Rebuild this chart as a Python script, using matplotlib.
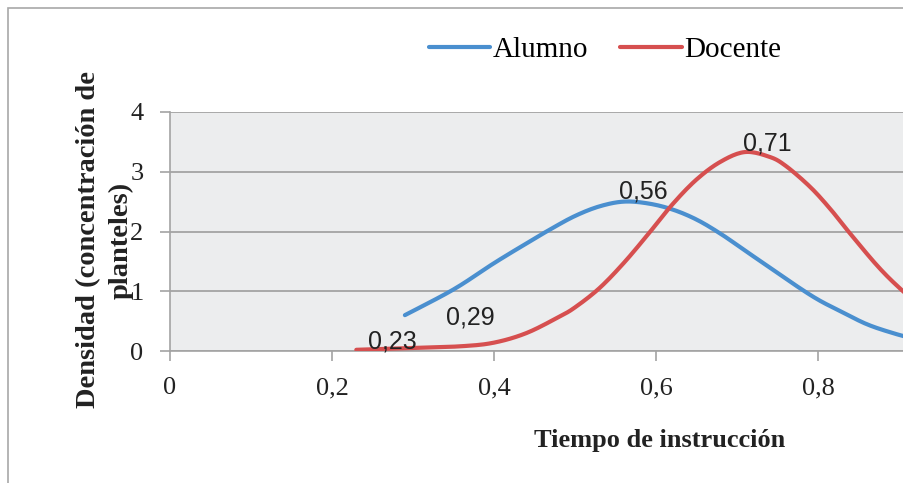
import numpy as np
import matplotlib.pyplot as plt
from matplotlib.patches import Rectangle

# density curves (x = tiempo de instrucción, y = densidad)
alumno_x = [0.29, 0.35, 0.40, 0.44, 0.47, 0.50, 0.53, 0.56, 0.59, 0.62, 0.65, 0.68, 0.71,
            0.74, 0.77, 0.80, 0.83, 0.86, 0.89, 0.92, 0.95]
alumno_y = [0.60, 1.03, 1.47, 1.80, 2.04, 2.26, 2.42, 2.50, 2.47, 2.37, 2.20, 1.96, 1.68,
            1.40, 1.12, 0.86, 0.65, 0.45, 0.31, 0.20, 0.12]

docente_x = [0.23, 0.30, 0.36, 0.40, 0.44, 0.48, 0.50, 0.53, 0.56, 0.59, 0.62, 0.65, 0.68,
             0.71, 0.74, 0.76, 0.79, 0.815, 0.84, 0.875, 0.905, 0.94]
docente_y = [0.02, 0.05, 0.08, 0.14, 0.30, 0.57, 0.73, 1.05, 1.47, 1.95, 2.45, 2.87, 3.17,
             3.33, 3.25, 3.10, 2.75, 2.38, 1.96, 1.40, 1.00, 0.60]

# labelled points: (x, y, text, offset in points)
labels = [
    (0.23, 0.02, "0,23", (26, 6)),
    (0.29, 0.60, "0,29", (47, -2)),
    (0.56, 2.50, "0,56", (14, 7)),
    (0.71, 3.33, "0,71", (16, 6)),
]

x_ticks = [0, 0.2, 0.4, 0.6, 0.8]
x_tick_labels = ["0", "0,2", "0,4", "0,6", "0,8"]
y_ticks = [0, 1, 2, 3, 4]

BLUE = "#4a8fcf"
RED = "#d64f4f"
GRID = "#a3a3a3"
SERIF = ["Liberation Serif", "DejaVu Serif"]


def smooth(xs, ys, steps=12):
    # Catmull-Rom pass through the points, like a spreadsheet's smoothed line
    p = np.column_stack([xs, ys])
    p = np.vstack([p[0], p, p[-1]])
    out = []
    t = np.linspace(0, 1, steps, endpoint=False)[:, None]
    for i in range(1, len(p) - 2):
        p0, p1, p2, p3 = p[i - 1], p[i], p[i + 1], p[i + 2]
        seg = 0.5 * (2 * p1 + (-p0 + p2) * t + (2 * p0 - 5 * p1 + 4 * p2 - p3) * t ** 2
                     + (-p0 + 3 * p1 - 3 * p2 + p3) * t ** 3)
        out.append(seg)
    out.append(p[-2][None, :])
    out = np.vstack(out)
    return out[:, 0], out[:, 1]


fig = plt.figure(figsize=(9.04, 4.83), dpi=100)
W, H = 904, 483

# x from 170 px (0) to 980 px (1), y from 351 px (0) to 112 px (4)
ax = fig.add_axes([170 / W, 1 - 351 / H, 810 / W, (351 - 112) / H])
ax.set_facecolor("#ecedee")
ax.set_xlim(0, 1)
ax.set_ylim(0, 4)

ax.plot(*smooth(alumno_x, alumno_y), color=BLUE, lw=3, solid_capstyle="round", label="Alumno", zorder=3)
ax.plot(*smooth(docente_x, docente_y), color=RED, lw=3, solid_capstyle="round", label="Docente", zorder=3)

for x, y, txt, off in labels:
    ax.annotate(txt, (x, y), xytext=off, textcoords="offset points",
                ha="center", va="center", fontsize=18, color="#222222",
                family=["Liberation Sans", "DejaVu Sans"], zorder=4)

ax.set_xticks(x_ticks + [1.0])
ax.set_xticklabels(x_tick_labels + [""])
ax.set_yticks(y_ticks)
ax.yaxis.grid(True, color=GRID, lw=1.3)
ax.set_axisbelow(True)
for lab in ax.get_xticklabels() + ax.get_yticklabels():
    lab.set_family(SERIF)
    lab.set_fontsize(19)
    lab.set_color("#222222")
ax.tick_params(axis="both", length=7, width=1.2, color=GRID, pad=12)

for side in ["top", "right"]:
    ax.spines[side].set_visible(False)
for side in ["left", "bottom"]:
    ax.spines[side].set_color(GRID)
    ax.spines[side].set_linewidth(1.2)

fig.text(660 / W, 1 - 440 / H, "Tiempo de instrucción", ha="center", va="center",
         fontsize=19, fontweight="bold", family=SERIF, color="#222222")
fig.text(105 / W, 1 - 240 / H, "Densidad (concentración de\nplanteles)", ha="center", va="center",
         rotation=90, fontsize=20.5, fontweight="bold", family=SERIF, color="#222222",
         linespacing=1.35, multialignment="center")

fig.legend(loc="center", bbox_to_anchor=(605 / W, 1 - 50 / H), ncol=2, frameon=False,
           prop={"family": SERIF, "size": 21}, handlelength=2.1, handletextpad=0.1,
           columnspacing=1.1)

# outer chart frame
fig.patches.append(Rectangle((8 / W, -0.1), 1.2, 1 - 8 / H + 0.1, transform=fig.transFigure,
                             fill=False, edgecolor="#a8a8a8", lw=1.2))

fig.savefig("out.png", dpi=100)
